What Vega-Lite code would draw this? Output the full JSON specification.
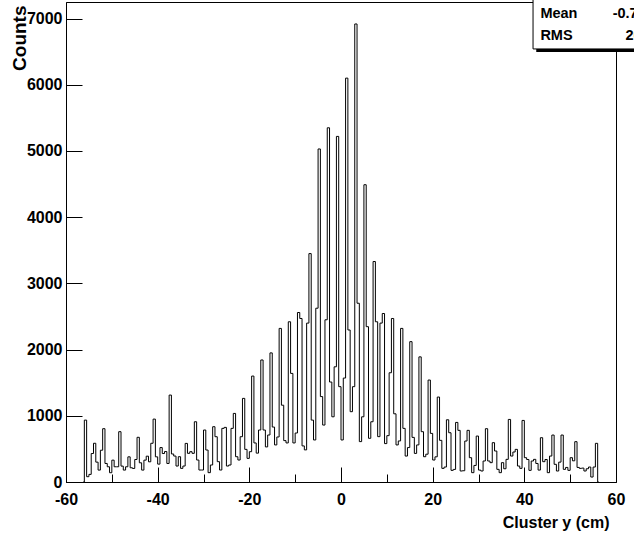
{
  "$schema": "https://vega.github.io/schema/vega-lite/v6.json",
  "autosize": {"type": "none"},
  "width": 550,
  "height": 480,
  "padding": {"left": 66, "top": 2, "right": 18, "bottom": 55},
  "background": "white",
  "config": {
    "view": {"stroke": "black", "strokeWidth": 1},
    "font": "Liberation Sans"
  },
  "datasets": {
    "hist": [
      {"y_cm": -56.25, "counts": 0},
      {"y_cm": -55.75, "counts": 935},
      {"y_cm": -55.25, "counts": 80},
      {"y_cm": -54.75, "counts": 115},
      {"y_cm": -54.25, "counts": 430},
      {"y_cm": -53.75, "counts": 585},
      {"y_cm": -53.25, "counts": 300},
      {"y_cm": -52.75, "counts": 180},
      {"y_cm": -52.25, "counts": 480},
      {"y_cm": -51.75, "counts": 805},
      {"y_cm": -51.25, "counts": 280},
      {"y_cm": -50.75, "counts": 230},
      {"y_cm": -50.25, "counts": 140},
      {"y_cm": -49.75, "counts": 330},
      {"y_cm": -49.25, "counts": 230},
      {"y_cm": -48.75, "counts": 230},
      {"y_cm": -48.25, "counts": 760},
      {"y_cm": -47.75, "counts": 240},
      {"y_cm": -47.25, "counts": 180},
      {"y_cm": -46.75, "counts": 230},
      {"y_cm": -46.25, "counts": 380},
      {"y_cm": -45.75, "counts": 215},
      {"y_cm": -45.25, "counts": 205},
      {"y_cm": -44.75, "counts": 340},
      {"y_cm": -44.25, "counts": 675},
      {"y_cm": -43.75, "counts": 290},
      {"y_cm": -43.25, "counts": 180},
      {"y_cm": -42.75, "counts": 330},
      {"y_cm": -42.25, "counts": 390},
      {"y_cm": -41.75, "counts": 305},
      {"y_cm": -41.25, "counts": 585},
      {"y_cm": -40.75, "counts": 950},
      {"y_cm": -40.25, "counts": 380},
      {"y_cm": -39.75, "counts": 270},
      {"y_cm": -39.25, "counts": 520},
      {"y_cm": -38.75, "counts": 430},
      {"y_cm": -38.25, "counts": 460},
      {"y_cm": -37.75, "counts": 280},
      {"y_cm": -37.25, "counts": 1313},
      {"y_cm": -36.75, "counts": 423},
      {"y_cm": -36.25, "counts": 392},
      {"y_cm": -35.75, "counts": 241},
      {"y_cm": -35.25, "counts": 382},
      {"y_cm": -34.75, "counts": 206},
      {"y_cm": -34.25, "counts": 241},
      {"y_cm": -33.75, "counts": 583},
      {"y_cm": -33.25, "counts": 433},
      {"y_cm": -32.75, "counts": 458},
      {"y_cm": -32.25, "counts": 433},
      {"y_cm": -31.75, "counts": 910},
      {"y_cm": -31.25, "counts": 332},
      {"y_cm": -30.75, "counts": 181},
      {"y_cm": -30.25, "counts": 181},
      {"y_cm": -29.75, "counts": 785},
      {"y_cm": -29.25, "counts": 483},
      {"y_cm": -28.75, "counts": 141},
      {"y_cm": -28.25, "counts": 257},
      {"y_cm": -27.75, "counts": 835},
      {"y_cm": -27.25, "counts": 684},
      {"y_cm": -26.75, "counts": 307},
      {"y_cm": -26.25, "counts": 181},
      {"y_cm": -25.75, "counts": 810},
      {"y_cm": -25.25, "counts": 825},
      {"y_cm": -24.75, "counts": 241},
      {"y_cm": -24.25, "counts": 257},
      {"y_cm": -23.75, "counts": 810},
      {"y_cm": -23.25, "counts": 1036},
      {"y_cm": -22.75, "counts": 382},
      {"y_cm": -22.25, "counts": 332},
      {"y_cm": -21.75, "counts": 684},
      {"y_cm": -21.25, "counts": 1263},
      {"y_cm": -20.75, "counts": 493},
      {"y_cm": -20.25, "counts": 357},
      {"y_cm": -19.75, "counts": 458},
      {"y_cm": -19.25, "counts": 1600},
      {"y_cm": -18.75, "counts": 590},
      {"y_cm": -18.25, "counts": 436},
      {"y_cm": -17.75, "counts": 785},
      {"y_cm": -17.25, "counts": 1843},
      {"y_cm": -16.75, "counts": 785},
      {"y_cm": -16.25, "counts": 530},
      {"y_cm": -15.75, "counts": 710},
      {"y_cm": -15.25, "counts": 1950},
      {"y_cm": -14.75, "counts": 830},
      {"y_cm": -14.25, "counts": 560},
      {"y_cm": -13.75, "counts": 680},
      {"y_cm": -13.25, "counts": 2320},
      {"y_cm": -12.75, "counts": 1160},
      {"y_cm": -12.25, "counts": 625},
      {"y_cm": -11.75, "counts": 590},
      {"y_cm": -11.25, "counts": 2420},
      {"y_cm": -10.75, "counts": 1640},
      {"y_cm": -10.25, "counts": 590},
      {"y_cm": -9.75, "counts": 740},
      {"y_cm": -9.25, "counts": 2560},
      {"y_cm": -8.75, "counts": 2470},
      {"y_cm": -8.25, "counts": 545},
      {"y_cm": -7.75, "counts": 485},
      {"y_cm": -7.25, "counts": 2400},
      {"y_cm": -6.75, "counts": 3450},
      {"y_cm": -6.25, "counts": 935},
      {"y_cm": -5.75, "counts": 635},
      {"y_cm": -5.25, "counts": 2625},
      {"y_cm": -4.75, "counts": 5030},
      {"y_cm": -4.25, "counts": 1290},
      {"y_cm": -3.75, "counts": 860},
      {"y_cm": -3.25, "counts": 2450},
      {"y_cm": -2.75, "counts": 5350},
      {"y_cm": -2.25, "counts": 1510},
      {"y_cm": -1.75, "counts": 985},
      {"y_cm": -1.25, "counts": 1740},
      {"y_cm": -0.75, "counts": 5220},
      {"y_cm": -0.25, "counts": 1440},
      {"y_cm": 0.25, "counts": 635},
      {"y_cm": 0.75, "counts": 1570},
      {"y_cm": 1.25, "counts": 6100},
      {"y_cm": 1.75, "counts": 2296},
      {"y_cm": 2.25, "counts": 1062},
      {"y_cm": 2.75, "counts": 1440},
      {"y_cm": 3.25, "counts": 6918},
      {"y_cm": 3.75, "counts": 2700},
      {"y_cm": 4.25, "counts": 610},
      {"y_cm": 4.75, "counts": 985},
      {"y_cm": 5.25, "counts": 4490},
      {"y_cm": 5.75, "counts": 2346},
      {"y_cm": 6.25, "counts": 660},
      {"y_cm": 6.75, "counts": 910},
      {"y_cm": 7.25, "counts": 3330},
      {"y_cm": 7.75, "counts": 2420},
      {"y_cm": 8.25, "counts": 685},
      {"y_cm": 8.75, "counts": 2400},
      {"y_cm": 9.25, "counts": 2545},
      {"y_cm": 9.75, "counts": 580},
      {"y_cm": 10.25, "counts": 700},
      {"y_cm": 10.75, "counts": 1650},
      {"y_cm": 11.25, "counts": 2470},
      {"y_cm": 11.75, "counts": 1030},
      {"y_cm": 12.25, "counts": 560},
      {"y_cm": 12.75, "counts": 620},
      {"y_cm": 13.25, "counts": 2320},
      {"y_cm": 13.75, "counts": 810},
      {"y_cm": 14.25, "counts": 392},
      {"y_cm": 14.75, "counts": 520},
      {"y_cm": 15.25, "counts": 2120},
      {"y_cm": 15.75, "counts": 674},
      {"y_cm": 16.25, "counts": 432},
      {"y_cm": 16.75, "counts": 560},
      {"y_cm": 17.25, "counts": 1890},
      {"y_cm": 17.75, "counts": 760},
      {"y_cm": 18.25, "counts": 382},
      {"y_cm": 18.75, "counts": 420},
      {"y_cm": 19.25, "counts": 1540},
      {"y_cm": 19.75, "counts": 734},
      {"y_cm": 20.25, "counts": 332},
      {"y_cm": 20.75, "counts": 380},
      {"y_cm": 21.25, "counts": 1283},
      {"y_cm": 21.75, "counts": 629},
      {"y_cm": 22.25, "counts": 206},
      {"y_cm": 22.75, "counts": 226},
      {"y_cm": 23.25, "counts": 940},
      {"y_cm": 23.75, "counts": 744},
      {"y_cm": 24.25, "counts": 176},
      {"y_cm": 24.75, "counts": 190},
      {"y_cm": 25.25, "counts": 900},
      {"y_cm": 25.75, "counts": 780},
      {"y_cm": 26.25, "counts": 166},
      {"y_cm": 26.75, "counts": 170},
      {"y_cm": 27.25, "counts": 619},
      {"y_cm": 27.75, "counts": 780},
      {"y_cm": 28.25, "counts": 367},
      {"y_cm": 28.75, "counts": 141},
      {"y_cm": 29.25, "counts": 250},
      {"y_cm": 29.75, "counts": 694},
      {"y_cm": 30.25, "counts": 180},
      {"y_cm": 30.75, "counts": 166},
      {"y_cm": 31.25, "counts": 317},
      {"y_cm": 31.75, "counts": 805},
      {"y_cm": 32.25, "counts": 317},
      {"y_cm": 32.75, "counts": 292},
      {"y_cm": 33.25, "counts": 594},
      {"y_cm": 33.75, "counts": 468},
      {"y_cm": 34.25, "counts": 191},
      {"y_cm": 34.75, "counts": 141},
      {"y_cm": 35.25, "counts": 292},
      {"y_cm": 35.75, "counts": 200},
      {"y_cm": 36.25, "counts": 342},
      {"y_cm": 36.75, "counts": 945},
      {"y_cm": 37.25, "counts": 392},
      {"y_cm": 37.75, "counts": 453},
      {"y_cm": 38.25, "counts": 493},
      {"y_cm": 38.75, "counts": 241},
      {"y_cm": 39.25, "counts": 206},
      {"y_cm": 39.75, "counts": 930},
      {"y_cm": 40.25, "counts": 367},
      {"y_cm": 40.75, "counts": 340},
      {"y_cm": 41.25, "counts": 176},
      {"y_cm": 41.75, "counts": 317},
      {"y_cm": 42.25, "counts": 342},
      {"y_cm": 42.75, "counts": 280},
      {"y_cm": 43.25, "counts": 180},
      {"y_cm": 43.75, "counts": 669},
      {"y_cm": 44.25, "counts": 307},
      {"y_cm": 44.75, "counts": 340},
      {"y_cm": 45.25, "counts": 141},
      {"y_cm": 45.75, "counts": 392},
      {"y_cm": 46.25, "counts": 709},
      {"y_cm": 46.75, "counts": 267},
      {"y_cm": 47.25, "counts": 166},
      {"y_cm": 47.75, "counts": 300},
      {"y_cm": 48.25, "counts": 709},
      {"y_cm": 48.75, "counts": 191},
      {"y_cm": 49.25, "counts": 220},
      {"y_cm": 49.75, "counts": 176},
      {"y_cm": 50.25, "counts": 367},
      {"y_cm": 50.75, "counts": 320},
      {"y_cm": 51.25, "counts": 609},
      {"y_cm": 51.75, "counts": 220},
      {"y_cm": 52.25, "counts": 206},
      {"y_cm": 52.75, "counts": 210},
      {"y_cm": 53.25, "counts": 166},
      {"y_cm": 53.75, "counts": 200},
      {"y_cm": 54.25, "counts": 226},
      {"y_cm": 54.75, "counts": 75},
      {"y_cm": 55.25, "counts": 226},
      {"y_cm": 55.75, "counts": 584},
      {"y_cm": 56.25, "counts": 0}
    ]
  },
  "layer": [
    {
      "data": {"name": "hist"},
      "mark": {"type": "line", "interpolate": "step", "color": "black", "strokeWidth": 1},
      "encoding": {
        "x": {
          "field": "y_cm", "type": "quantitative",
          "scale": {"domain": [-60, 60], "nice": false, "zero": false},
          "axis": {
            "orient": "bottom",
            "title": "Cluster y (cm)",
            "values": [-60,-55,-50,-45,-40,-35,-30,-25,-20,-15,-10,-5,0,5,10,15,20,25,30,35,40,45,50,55,60],
            "labelExpr": "datum.value % 20 === 0 ? '' + datum.value : ''",
            "ticks": false,
            "grid": true,
            "gridColor": "black", "gridWidth": 1, "gridOpacity": 1,
            "gridDash": {"condition": {"test": "datum.value % 20 === 0", "value": [0, 465, 15, 1000]}, "value": [0, 472, 8, 1000]},
            "domainColor": "black",
            "labelFont": "Liberation Sans", "labelFontWeight": "bold", "labelFontSize": 16, "labelColor": "black",
            "labelPadding": 9, "labelFlush": false, "labelOverlap": false,
            "titleFont": "Liberation Sans", "titleFontWeight": "bold", "titleFontSize": 16, "titleColor": "black",
            "titleAlign": "right", "titleBaseline": "alphabetic", "titleX": 543, "titleY": 45
          }
        },
        "y": {
          "field": "counts", "type": "quantitative",
          "scale": {"domain": [0, 7250], "nice": false},
          "axis": {
            "orient": "left",
            "title": "Counts",
            "values": [0,500,1000,1500,2000,2500,3000,3500,4000,4500,5000,5500,6000,6500,7000],
            "labelExpr": "datum.value % 1000 === 0 ? '' + datum.value : ''",
            "ticks": false,
            "grid": true,
            "gridColor": "black", "gridWidth": 1, "gridOpacity": 1,
            "gridDash": {"condition": {"test": "datum.value % 1000 === 0", "value": [16, 1000]}, "value": [8, 1000]},
            "domainColor": "black",
            "labelFont": "Liberation Sans", "labelFontWeight": "bold", "labelFontSize": 16, "labelColor": "black",
            "labelPadding": 4, "labelFlush": false, "labelOverlap": false,
            "titleFont": "Liberation Sans", "titleFontWeight": "bold", "titleFontSize": 19, "titleColor": "black",
            "titleAngle": 270, "titleAlign": "right", "titleBaseline": "middle", "titleX": -47, "titleY": 3
          }
        }
      }
    },
    {
      "data": {"values": [{}]},
      "mark": {"type": "rect", "color": "black"},
      "encoding": {
        "x": {"datum": 42.6, "type": "quantitative", "scale": {"domain": [-60, 60], "nice": false, "zero": false}},
        "x2": {"datum": 75},
        "y": {"datum": 6496, "type": "quantitative", "scale": {"domain": [0, 7250], "nice": false}},
        "y2": {"datum": 7240}
      }
    },
    {
      "data": {"values": [{}]},
      "mark": {"type": "rect", "fill": "white", "stroke": "black", "strokeWidth": 1},
      "encoding": {
        "x": {"datum": 41.9, "type": "quantitative", "scale": {"domain": [-60, 60], "nice": false, "zero": false}},
        "x2": {"datum": 74},
        "y": {"datum": 6541, "type": "quantitative", "scale": {"domain": [0, 7250], "nice": false}},
        "y2": {"datum": 7290}
      }
    },
    {
      "data": {"values": [{}]},
      "mark": {"type": "text", "text": "Mean", "align": "left", "baseline": "middle", "font": "Liberation Sans", "fontWeight": "bold", "fontSize": 14.5, "color": "black"},
      "encoding": {
        "x": {"datum": 43.5, "type": "quantitative", "scale": {"domain": [-60, 60], "nice": false, "zero": false}},
        "y": {"datum": 7069, "type": "quantitative", "scale": {"domain": [0, 7250], "nice": false}}
      }
    },
    {
      "data": {"values": [{}]},
      "mark": {"type": "text", "text": "RMS", "align": "left", "baseline": "middle", "font": "Liberation Sans", "fontWeight": "bold", "fontSize": 14.5, "color": "black"},
      "encoding": {
        "x": {"datum": 43.5, "type": "quantitative", "scale": {"domain": [-60, 60], "nice": false, "zero": false}},
        "y": {"datum": 6737, "type": "quantitative", "scale": {"domain": [0, 7250], "nice": false}}
      }
    },
    {
      "data": {"values": [{}]},
      "mark": {"type": "text", "text": "-0.7396", "align": "right", "baseline": "middle", "font": "Liberation Sans", "fontWeight": "bold", "fontSize": 14.5, "color": "black"},
      "encoding": {
        "x": {"datum": 70.0, "type": "quantitative", "scale": {"domain": [-60, 60], "nice": false, "zero": false}},
        "y": {"datum": 7069, "type": "quantitative", "scale": {"domain": [0, 7250], "nice": false}}
      }
    },
    {
      "data": {"values": [{}]},
      "mark": {"type": "text", "text": "20.83", "align": "right", "baseline": "middle", "font": "Liberation Sans", "fontWeight": "bold", "fontSize": 14.5, "color": "black"},
      "encoding": {
        "x": {"datum": 70.0, "type": "quantitative", "scale": {"domain": [-60, 60], "nice": false, "zero": false}},
        "y": {"datum": 6737, "type": "quantitative", "scale": {"domain": [0, 7250], "nice": false}}
      }
    }
  ]
}
